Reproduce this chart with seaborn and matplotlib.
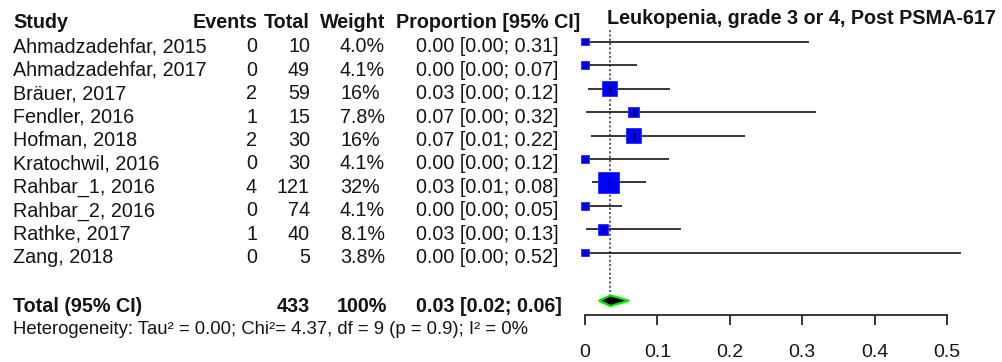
import matplotlib
matplotlib.use("Agg")
import matplotlib.pyplot as plt
import matplotlib.transforms as mtransforms
from matplotlib.patches import Polygon
import seaborn as sns
import pandas as pd
import numpy as np

# ---------------- data ----------------
studies = ["Ahmadzadehfar, 2015", "Ahmadzadehfar, 2017", "Bräuer, 2017", "Fendler, 2016",
           "Hofman, 2018", "Kratochwil, 2016", "Rahbar_1, 2016", "Rahbar_2, 2016",
           "Rathke, 2017", "Zang, 2018"]
events = [0, 0, 2, 1, 2, 0, 4, 0, 1, 0]
totals = [10, 49, 59, 15, 30, 30, 121, 74, 40, 5]
weights = [4.0, 4.1, 16, 7.8, 16, 4.1, 32, 4.1, 8.1, 3.8]
weight_labels = ["4.0%", "4.1%", "16%", "7.8%", "16%", "4.1%", "32%", "4.1%", "8.1%", "3.8%"]
prop = [0.0, 0.0, 0.034, 0.067, 0.067, 0.0, 0.033, 0.0, 0.025, 0.0]
lower = [0.0, 0.0, 0.004, 0.002, 0.008, 0.0, 0.009, 0.0, 0.001, 0.0]
upper = [0.31, 0.072, 0.117, 0.319, 0.221, 0.116, 0.084, 0.051, 0.132, 0.52]
ci_labels = ["0.00 [0.00; 0.31]", "0.00 [0.00; 0.07]", "0.03 [0.00; 0.12]", "0.07 [0.00; 0.32]",
             "0.07 [0.01; 0.22]", "0.00 [0.00; 0.12]", "0.03 [0.01; 0.08]", "0.00 [0.00; 0.05]",
             "0.03 [0.00; 0.13]", "0.00 [0.00; 0.52]"]
pooled = 0.035
pooled_lower = 0.0193
pooled_upper = 0.0607
total_n = "433"
total_w = "100%"
total_ci = "0.03 [0.02; 0.06]"
x_ticks = [0, 0.1, 0.2, 0.3, 0.4, 0.5]
x_tick_labels = ["0", "0.1", "0.2", "0.3", "0.4", "0.5"]
title = "Leukopenia, grade 3 or 4, Post PSMA-617"
het_text = "Heterogeneity: Tau² = 0.00; Chi²= 4.37, df = 9 (p = 0.9); I² = 0%"

df = pd.DataFrame({"study": studies, "events": events, "total": totals, "weight": weights,
                   "prop": prop, "lower": lower, "upper": upper,
                   "row": np.arange(len(studies))})

# ---------------- style ----------------
sns.set_theme(style="white")
plt.rcParams["font.family"] = ["Liberation Sans", "DejaVu Sans"]

W, H = 1002, 362
fig = plt.figure(figsize=(W / 100, H / 100), dpi=100)
fig.patch.set_facecolor("white")

# axes for forest area (pixels: x 585..947, y top 5 .. bottom 315)
x0, x1 = 585, 947
ytop, ybot = 5, 315
ax = fig.add_axes([x0 / W, (H - ybot) / H, (x1 - x0) / W, (ybot - ytop) / H])
ax.set_facecolor("none")

row0, dy = 41.7, 23.45
def prow(py):
    return (py - row0) / dy

ax.set_xlim(0, 0.5)
ax.set_ylim(prow(ybot), prow(ytop))

fs = 14.2
tcol = "#141414"

# CI lines
ax.hlines(df["row"], df["lower"], df["upper"], color="#262626", lw=1.3, zorder=2, clip_on=False)
# squares
sns.scatterplot(data=df, x="prop", y="row", size="weight",
                sizes=(min(weights) * 7.2, max(weights) * 7.2),
                marker="s", color="#0000ff", edgecolor="#2a2aff", linewidth=0.6,
                legend=False, ax=ax, zorder=3, clip_on=False)
ax.plot(df["prop"], df["row"], linestyle="none", marker="|", color="black", ms=5, mew=1, zorder=4,
        clip_on=False)

# pooled reference line
ax.vlines(pooled, prow(30), prow(292), color="#555555", lw=1.3, linestyles=(0, (1.2, 1.2)), zorder=1)

# diamond
total_row = prow(300.7)
dh = 0.23
diamond = Polygon([[pooled_lower, total_row], [pooled, total_row - dh],
                   [pooled_upper, total_row], [pooled, total_row + dh]],
                  closed=True, facecolor="black", edgecolor="#00ee00", lw=1.6, zorder=3,
                  clip_on=False)
ax.add_patch(diamond)

# axis
for s in ["top", "left", "right"]:
    ax.spines[s].set_visible(False)
ax.spines["bottom"].set_color("#262626")
ax.spines["bottom"].set_linewidth(1.3)
ax.spines["bottom"].set_bounds(0, 0.5)
ax.set_xticks(x_ticks)
ax.set_xticklabels(x_tick_labels, fontsize=14, color=tcol)
ax.tick_params(axis="x", direction="out", length=7.2, width=1.3, color="#262626", pad=14,
               bottom=True)
ax.set_yticks([])
ax.set_xlabel("")
ax.set_ylabel("")
ax.grid(False)

# text columns (baseline positioned, x in figure pixels)
tr = mtransforms.blended_transform_factory(fig.transFigure, ax.transData)
def T(px, base_py, s, ha="left", bold=False, size=fs):
    ax.text(px / W, prow(base_py), s, transform=tr, ha=ha, va="baseline", fontsize=size,
            fontweight="bold" if bold else "normal", color=tcol, clip_on=False)

T(13, 27.5, "Study", bold=True)
T(257, 27.5, "Events", ha="right", bold=True)
T(310, 27.5, "Total", ha="right", bold=True)
T(385, 27.5, "Weight", ha="right", bold=True)
T(396, 27.5, "Proportion [95% CI]", bold=True)
T(607, 23.5, title, bold=True)

for i in range(len(studies)):
    base = row0 + dy * i + 10.5
    T(13, base, studies[i])
    T(257, base, str(events[i]), ha="right")
    T(310, base, str(totals[i]), ha="right")
    T(340, base, weight_labels[i])
    T(416, base, ci_labels[i])

tb = 300.7 + 11
T(13, tb, "Total (95% CI)", bold=True)
T(310, tb, total_n, ha="right", bold=True)
T(337, tb, total_w, bold=True)
T(416, tb, total_ci, bold=True)
T(13, 334, het_text, size=13.3)

fig.savefig("out.png", dpi=100, facecolor="white")
